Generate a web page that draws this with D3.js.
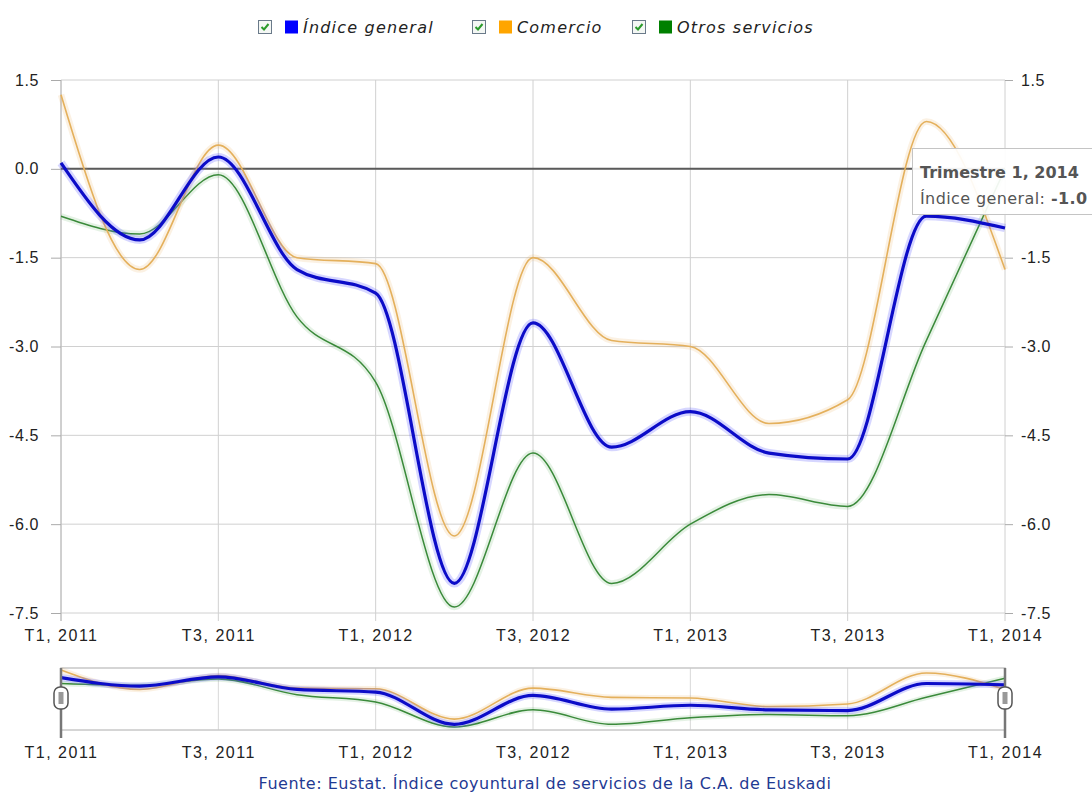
<!DOCTYPE html>
<html>
<head>
<meta charset="utf-8">
<script src="https://cdnjs.cloudflare.com/ajax/libs/d3/7.8.5/d3.min.js"></script>
<style>
	body { margin: 0; background: #fff; }
	svg { display: block; font-family: "DejaVu Sans", Verdana, sans-serif; }
	.axis path { display: none; }
	.axis line { stroke: #aaa; }
	.axis text { fill: #222; font-size: 16px; letter-spacing: 0.6px; }
	.xaxis text { letter-spacing: 1.5px; }
	.grid line { stroke: #d0d0d0; stroke-width: 1; }
</style>
</head>
<body>
<svg id="chart" width="1092" height="797"></svg>
<script>
// quarters shown on the x axis
var quarters = ["T1, 2011", "T2, 2011", "T3, 2011", "T4, 2011",
	"T1, 2012", "T2, 2012", "T3, 2012", "T4, 2012",
	"T1, 2013", "T2, 2013", "T3, 2013", "T4, 2013", "T1, 2014"];
var xTicks = ["T1, 2011", "T3, 2011", "T1, 2012", "T3, 2012", "T1, 2013", "T3, 2013", "T1, 2014"];
var yTicks = [1.5, 0, -1.5, -3, -4.5, -6, -7.5];
// right axis label at 0.0 sits under the tooltip
var yTicksRight = [1.5, -1.5, -3, -4.5, -6, -7.5];

var indiceGeneral = [0.1, -1.2, 0.2, -1.7, -2.1, -7.0, -2.6, -4.7, -4.1, -4.8, -4.9, -0.8, -1.0];
var comercio = [1.25, -1.7, 0.4, -1.5, -1.6, -6.2, -1.5, -2.9, -3.0, -4.3, -3.9, 0.8, -1.7];
var otrosServicios = [-0.8, -1.1, -0.1, -2.5, -3.6, -7.4, -4.8, -7.0, -6.0, -5.5, -5.7, -2.9, 0.0];

var seriesNames = ["Índice general", "Comercio", "Otros servicios"];
var seriesColors = ["#0000ff", "#ffa500", "#008000"];

var series = [
	{ name: seriesNames[2], values: otrosServicios, stroke: "#3a8a3a", width: 1.5, glow: "rgba(0,128,0,0.10)" },
	{ name: seriesNames[1], values: comercio, stroke: "#e4b05c", width: 1.6, glow: "rgba(230,170,80,0.16)" },
	{ name: seriesNames[0], values: indiceGeneral, stroke: "#0c0cc8", width: 3.2, glow: "rgba(90,90,255,0.25)" }
];

var svg = d3.select("#chart");

var x = d3.scalePoint().domain(quarters).range([61, 1005]);
var y = d3.scaleLinear().domain([-7.5, 1.5]).range([613, 80]);

// gridlines
var grid = svg.append("g").attr("class", "grid");
grid.selectAll(".h").data(yTicks).enter().append("line")
	.attr("x1", 61).attr("x2", 1005)
	.attr("y1", function(d) { return y(d); })
	.attr("y2", function(d) { return y(d); });
grid.selectAll(".v").data(xTicks).enter().append("line")
	.attr("x1", function(d) { return x(d); })
	.attr("x2", function(d) { return x(d); })
	.attr("y1", 80).attr("y2", 621);

svg.append("line")
	.attr("x1", 61).attr("x2", 61).attr("y1", 80).attr("y2", 621)
	.attr("stroke", "#b8b8b8");

var fmt = function(d) { return d.toFixed(1); };

svg.append("g").attr("class", "axis")
	.attr("transform", "translate(61,0)")
	.call(d3.axisLeft(y).tickValues(yTicks).tickFormat(fmt).tickSize(10).tickPadding(12));

svg.append("g").attr("class", "axis")
	.attr("transform", "translate(1005,0)")
	.call(d3.axisRight(y).tickValues(yTicksRight).tickFormat(fmt).tickSize(8).tickPadding(8));

svg.append("g").attr("class", "axis xaxis")
	.attr("transform", "translate(0,613)")
	.call(d3.axisBottom(x).tickValues(xTicks).tickSize(0).tickPadding(17));

// zero line
svg.append("line")
	.attr("x1", 61).attr("x2", 1005)
	.attr("y1", y(0)).attr("y2", y(0))
	.attr("stroke", "#5a5a5a").attr("stroke-width", 2);

var line = d3.line()
	.x(function(d, i) { return x(quarters[i]); })
	.y(function(d) { return y(d); })
	.curve(d3.curveMonotoneX);

var lines = svg.append("g");
series.forEach(function(s) {
	lines.append("path")
		.attr("d", line(s.values))
		.attr("fill", "none")
		.attr("stroke", s.glow)
		.attr("stroke-width", s.width + 5)
		.attr("stroke-linejoin", "round");
	lines.append("path")
		.attr("d", line(s.values))
		.attr("fill", "none")
		.attr("stroke", s.stroke)
		.attr("stroke-width", s.width)
		.attr("stroke-linejoin", "round");
});

// navigator
var navTop = 668, navBottom = 730;
var allValues = indiceGeneral.concat(comercio, otrosServicios);
var yNav = d3.scaleLinear().domain(d3.extent(allValues)).range([727, 670]);

var nav = svg.append("g");
nav.selectAll(".nv").data(xTicks).enter().append("line")
	.attr("x1", function(d) { return x(d); })
	.attr("x2", function(d) { return x(d); })
	.attr("y1", navTop).attr("y2", navBottom)
	.attr("stroke", "#d8d8d8");
nav.append("rect")
	.attr("x", 61).attr("y", navTop).attr("width", 944).attr("height", navBottom - navTop)
	.attr("fill", "none").attr("stroke", "#c8c8c8").attr("stroke-width", 1.5);

var navLine = d3.line()
	.x(function(d, i) { return x(quarters[i]); })
	.y(function(d) { return yNav(d); })
	.curve(d3.curveMonotoneX);

series.forEach(function(s) {
	nav.append("path")
		.attr("d", navLine(s.values))
		.attr("fill", "none")
		.attr("stroke", s.glow)
		.attr("stroke-width", s.width + 4);
	nav.append("path")
		.attr("d", navLine(s.values))
		.attr("fill", "none")
		.attr("stroke", s.stroke)
		.attr("stroke-width", s.width);
});

svg.append("g").attr("class", "axis xaxis")
	.attr("transform", "translate(0," + navBottom + ")")
	.call(d3.axisBottom(x).tickValues(xTicks).tickSize(0).tickPadding(17));

// navigator handles
[61, 1005].forEach(function(hx) {
	var h = nav.append("g").attr("transform", "translate(" + hx + ",0)");
	h.append("line").attr("x1", 0).attr("x2", 0).attr("y1", navTop).attr("y2", 738)
		.attr("stroke", "#777").attr("stroke-width", 2.5);
	h.append("rect").attr("x", -7).attr("y", 687).attr("width", 14).attr("height", 22).attr("rx", 6)
		.attr("fill", "#fff").attr("stroke", "#555").attr("stroke-width", 1.5);
	h.append("rect").attr("x", -2.5).attr("y", 692).attr("width", 5).attr("height", 12)
		.attr("fill", "#999");
});

// source
svg.append("text")
	.attr("x", 545).attr("y", 789)
	.attr("text-anchor", "middle")
	.attr("fill", "#1f3a93")
	.style("font-size", "16px")
	.style("letter-spacing", "0.5px")
	.text("Fuente: Eustat. Índice coyuntural de servicios de la C.A. de Euskadi");

// legend
var legendX = [258, 472, 632];
var legend = svg.append("g").selectAll("g")
	.data(seriesNames)
	.enter().append("g")
	.attr("transform", function(d, i) { return "translate(" + legendX[i] + ",20)"; });
legend.append("rect")
	.attr("x", 0.5).attr("y", 0.5).attr("width", 13).attr("height", 13)
	.attr("fill", "#f4f7f4").attr("stroke", "#6a7a8a");
legend.append("path")
	.attr("d", "M3.5,7 L6,9.5 L10.5,4")
	.attr("fill", "none").attr("stroke", "#2a9a2a").attr("stroke-width", 2);
legend.append("rect")
	.attr("x", 27).attr("y", 0.5).attr("width", 13).attr("height", 13)
	.attr("fill", function(d, i) { return seriesColors[i]; });
legend.append("text")
	.attr("x", 45).attr("y", 12.5)
	.style("font-size", "16px").style("font-style", "italic")
	.style("letter-spacing", "1.2px")
	.attr("fill", "#222")
	.text(function(d) { return d; });

// tooltip
var tip = svg.append("g").attr("transform", "translate(912,148)");
tip.append("rect")
	.attr("x", 0.5).attr("y", 0.5).attr("width", 200).attr("height", 66)
	.attr("fill", "rgba(255,255,255,0.92)").attr("stroke", "#c4c4c4");
tip.append("text")
	.attr("x", 8).attr("y", 30)
	.attr("fill", "#555").style("font-size", "16px").style("font-weight", "bold")
	.text("Trimestre 1, 2014");
var t2 = tip.append("text")
	.attr("x", 8).attr("y", 56)
	.attr("fill", "#555").style("font-size", "16px")
	.style("letter-spacing", "0.4px");
t2.append("tspan").text(seriesNames[0] + ": ");
t2.append("tspan").style("font-weight", "bold").text(fmt(indiceGeneral[12]));
</script>
</body>
</html>
